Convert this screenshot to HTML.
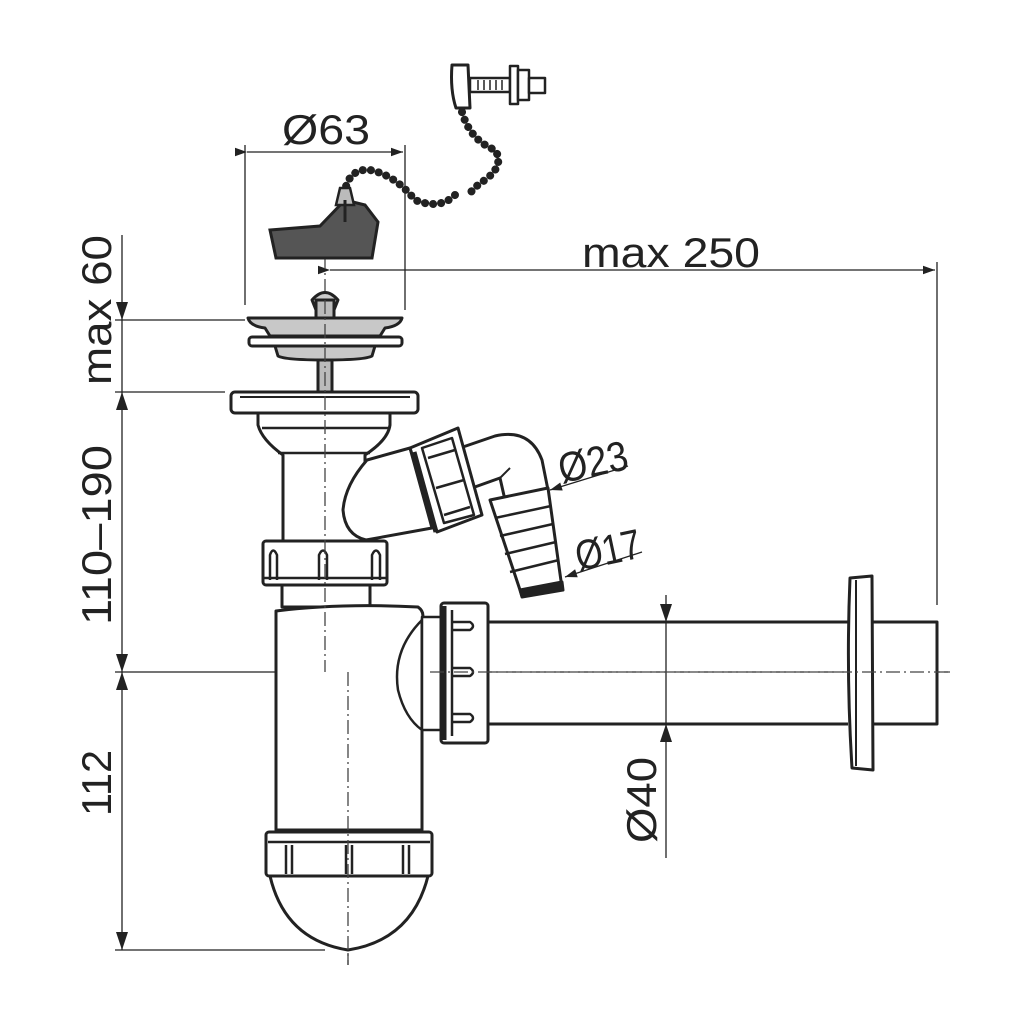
<!DOCTYPE html>
<html><head><meta charset="utf-8"><style>html,body{margin:0;padding:0;background:#fff}svg{display:block}text{font-family:"Liberation Sans",sans-serif;fill:#222}</style></head>
<body>
<svg width="1024" height="1024" viewBox="0 0 1024 1024" xmlns="http://www.w3.org/2000/svg">
<defs>
<marker id="b" viewBox="0 0 10 10" refX="10" refY="5" markerWidth="16" markerHeight="12" orient="auto" markerUnits="userSpaceOnUse"><path d="M0,1.5 L10,5 L0,8.5 z" fill="#222"/></marker>
</defs>
<g stroke="#222" stroke-width="1.3" fill="none">
<line x1="245" y1="145" x2="245" y2="305"/><line x1="405" y1="145" x2="405" y2="310"/>
<line x1="247" y1="152" x2="403" y2="152" marker-end="url(#b)" marker-start="url(#b)"/>
<line x1="330" y1="270" x2="935" y2="270" marker-start="url(#b)" marker-end="url(#b)"/>
<line x1="937" y1="262" x2="937" y2="605"/>
<line x1="122" y1="235" x2="122" y2="950"/>
<path d="M116,302 L128,302 L122,320 z" fill="#222" stroke="none"/>
<path d="M116,410 L128,410 L122,392 z" fill="#222" stroke="none"/>
<path d="M116,654 L128,654 L122,672 z" fill="#222" stroke="none"/>
<path d="M116,690 L128,690 L122,672 z" fill="#222" stroke="none"/>
<path d="M116,932 L128,932 L122,950 z" fill="#222" stroke="none"/>
<line x1="115" y1="320" x2="245" y2="320"/>
<line x1="115" y1="392" x2="225" y2="392"/>
<line x1="115" y1="672" x2="320" y2="672"/>
<line x1="115" y1="950" x2="325" y2="950"/>
<line x1="666" y1="595" x2="666" y2="858"/>
<path d="M660,604 L672,604 L666,622 z" fill="#222" stroke="none"/>
<path d="M660,742 L672,742 L666,724 z" fill="#222" stroke="none"/>
<line x1="628" y1="466" x2="550" y2="490" marker-end="url(#b)"/>
<line x1="642" y1="552" x2="565" y2="577" marker-end="url(#b)"/>
</g>
<g stroke="#444" stroke-width="1.3" fill="none" stroke-dasharray="14,4,2,4">
<line x1="325" y1="255" x2="325" y2="672"/>
<line x1="320" y1="672" x2="950" y2="672"/>
<line x1="348" y1="665" x2="348" y2="965"/>
</g>
<text x="326" y="144" font-size="42" text-anchor="middle" textLength="88" lengthAdjust="spacingAndGlyphs">Ø63</text>
<text x="671" y="267" font-size="42" text-anchor="middle" textLength="178" lengthAdjust="spacingAndGlyphs">max 250</text>
<text transform="translate(111,310) rotate(-90)" font-size="42" text-anchor="middle" textLength="150" lengthAdjust="spacingAndGlyphs">max 60</text>
<text transform="translate(111,535) rotate(-90)" font-size="42" text-anchor="middle" textLength="180" lengthAdjust="spacingAndGlyphs">110–190</text>
<text transform="translate(111,783) rotate(-90)" font-size="42" text-anchor="middle" textLength="66" lengthAdjust="spacingAndGlyphs">112</text>
<text transform="translate(656,800) rotate(-90)" font-size="42" text-anchor="middle" textLength="86" lengthAdjust="spacingAndGlyphs">Ø40</text>
<text transform="translate(596,476) rotate(-12)" font-size="42" text-anchor="middle" textLength="70" lengthAdjust="spacingAndGlyphs">Ø23</text>
<text transform="translate(611,564) rotate(-12)" font-size="42" text-anchor="middle" textLength="66" lengthAdjust="spacingAndGlyphs">Ø17</text>

<g stroke="#222" stroke-width="3" fill="#fff" stroke-linejoin="round">
<path d="M452,65 L468,65 L470,108 L456,108 Q450,90 452,65 z"/>
<rect x="470" y="78" width="40" height="14" stroke-width="2.5"/>
<path d="M478,80 v10 M484,80 v10 M490,80 v10 M496,80 v10 M502,80 v10" stroke-width="1.5"/>
<rect x="510" y="66" width="8" height="38" stroke-width="2.5"/>
<rect x="518" y="70" width="11" height="30" stroke-width="2.5"/>
<rect x="529" y="78" width="16" height="15" stroke-width="2.5"/>
</g>
<path d="M462,112 Q470,140 495,150 Q505,165 485,180 Q470,190 470,195 M455,195 Q440,210 415,200 Q395,175 370,170 Q350,168 345,190" stroke="#222" stroke-width="8" fill="none" stroke-dasharray="0.1,8" stroke-linecap="round"/>
<path d="M270,230 L320,226 L345,200 L365,205 L378,222 L372,258 L276,258 z" fill="#555" stroke="#222" stroke-width="3"/>
<path d="M340,188 L350,188 L354,205 L336,205 z" fill="#bbb" stroke="#222" stroke-width="2.5"/>
<line x1="345" y1="200" x2="345" y2="222" stroke="#222" stroke-width="3"/>

<g stroke="#222" stroke-width="3" stroke-linejoin="round">
<path d="M312,300 Q325,285 338,300 L334,310 L316,310 z" fill="#ccc"/>
<rect x="316" y="300" width="18" height="20" fill="#bbb"/>
<path d="M248,318 L402,318 Q400,326 385,328 L380,336 L270,336 L265,328 Q250,326 248,318 z" fill="#c8c8c8"/>
<rect x="249" y="337" width="153" height="9" rx="3" fill="#fff"/>
<path d="M275,346 L375,346 L372,356 Q365,360 325,360 Q285,360 278,356 z" fill="#c8c8c8"/>
<rect x="318" y="360" width="14" height="32" fill="#bbb"/>
<rect x="231" y="392" width="187" height="21" rx="4" fill="#fff"/>
<line x1="240" y1="397" x2="410" y2="397" stroke-width="2"/>
<path d="M258,413 L258,425 Q262,440 283,455 L283,542 L365,542 L365,455 Q388,440 390,425 L390,413 z" fill="#fff"/>
<line x1="262" y1="428" x2="388" y2="428" stroke-width="2.5"/>
<line x1="278" y1="453" x2="370" y2="453" stroke-width="2.5"/>
<path d="M367,460 L410,448 L432,528 L366,540 Q345,535 343,510 Q345,485 367,460 z" fill="#fff"/>
<path d="M460,448 L495,436 Q530,428 542,460 L548,490 L505,500 L500,478 L472,488 z" fill="#fff"/>
<line x1="500" y1="478" x2="510" y2="468" stroke-width="2"/>
<path d="M490,500 L548,488 L562,588 L522,596 z" fill="#fff"/>
<path d="M495,518 L551,506 M500,536 L553,524 M505,554 L556,542 M510,572 L559,560" stroke-width="2.5" fill="none"/>
<path d="M520,590 L562,582 L563,590 L522,597 z" fill="#222"/>
<path d="M410,448 L458,428 L482,515 L437,532 z" fill="#fff"/>
<path d="M422,448 L452,438 L474,515 L444,523 z" fill="#fff" stroke-width="2.5"/>
<path d="M428,458 L455,450 M436,488 L464,480 M444,515 L470,507" stroke-width="2.5" fill="none"/>
<line x1="414" y1="452" x2="436" y2="532" stroke-width="5"/>
<rect x="263" y="541" width="124" height="44" rx="3" fill="#fff"/>
<path d="M270,580 L270,555 Q273,546 277,555 L277,580 M319,580 L319,555 Q323,546 327,555 L327,580 M372,580 L372,555 Q376,546 380,555 L380,580" fill="none" stroke-width="2.5"/>
<line x1="263" y1="578" x2="387" y2="578" stroke-width="2.5"/>
<rect x="282" y="585" width="88" height="22" fill="#fff"/>
<path d="M276,611 Q340,603 418,607 Q425,612 422,620 L422,830 L276,830 z" fill="#fff"/>
<path d="M422,620 Q392,650 398,690 Q405,718 422,730" fill="none" stroke-width="2.5"/>
<rect x="422" y="617" width="20" height="113" fill="#fff" stroke-width="2.5"/>
<rect x="441" y="603" width="47" height="140" rx="3" fill="#fff"/>
<line x1="444" y1="606" x2="444" y2="740" stroke-width="5"/>
<path d="M452,610 L452,736 M452,622 L470,622 Q476,626 470,630 L452,630 M452,668 L470,668 Q476,672 470,676 L452,676 M452,714 L470,714 Q476,718 470,722 L452,722" fill="none" stroke-width="2.5"/>
<path d="M488,622 L848,622 M488,724 L848,724" fill="none"/>
<path d="M873,622 L937,622 L937,724 L873,724" fill="#fff"/>
<path d="M850,578 L872,576 L873,770 L852,768 Q846,672 850,578 z" fill="#fff"/>
<line x1="856" y1="580" x2="856" y2="766" stroke-width="2"/>
<rect x="266" y="832" width="166" height="44" rx="3" fill="#fff"/>
<line x1="268" y1="842" x2="430" y2="842" stroke-width="2.5"/>
<path d="M286,845 L286,874 M292,845 L292,874 M346,845 L346,874 M352,845 L352,874 M403,845 L403,874 M409,845 L409,874" fill="none" stroke-width="2.5"/>
<path d="M270,876 Q285,940 348,950 Q412,940 428,876 z" fill="#fff"/>
</g>
<g stroke="#444" stroke-width="1.3" fill="none" stroke-dasharray="14,4,2,4">
<line x1="325" y1="300" x2="325" y2="672"/>
<line x1="348" y1="672" x2="348" y2="965"/>
<line x1="430" y1="672" x2="950" y2="672"/>
</g>
</svg>
</body></html>
